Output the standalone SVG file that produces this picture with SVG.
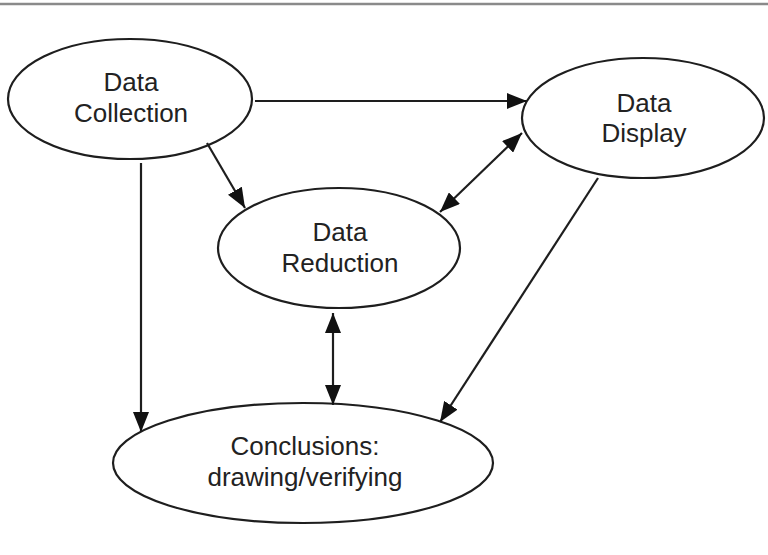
<svg xmlns="http://www.w3.org/2000/svg" width="768" height="555" viewBox="0 0 768 555">
<defs>
<marker id="ah" markerUnits="userSpaceOnUse" markerWidth="20" markerHeight="16" refX="20" refY="8" orient="auto-start-reverse" viewBox="0 0 20 16">
<path d="M0,0 L20,8 L0,16 z" fill="#111"/>
</marker>
<style>
.n{fill:#fff;stroke:#1e1e1e;stroke-width:2.2}
.t{font-family:"Liberation Sans",Arial,sans-serif;font-size:26px;fill:#222;text-anchor:middle}
.c{stroke:#1e1e1e;stroke-width:2.2;fill:none}
</style>
</defs>
<rect width="768" height="555" fill="#fff"/>
<line x1="0" y1="4" x2="768" y2="4" stroke="#8a8a8a" stroke-width="2.5"/>
<g id="collection">
<ellipse class="n" cx="130" cy="99" rx="122" ry="60"/>
<text class="t" x="131" y="91">Data</text>
<text class="t" x="131" y="122">Collection</text>
</g>
<g id="display">
<ellipse class="n" cx="643" cy="118" rx="121" ry="60"/>
<text class="t" x="644" y="112">Data</text>
<text class="t" x="644" y="142">Display</text>
</g>
<g id="reduction">
<ellipse class="n" cx="339" cy="248" rx="121" ry="60"/>
<text class="t" x="340" y="241">Data</text>
<text class="t" x="340" y="272">Reduction</text>
</g>
<g id="conclusions">
<ellipse class="n" cx="303" cy="463" rx="190" ry="60"/>
<text class="t" x="305" y="455">Conclusions:</text>
<text class="t" x="305" y="486">drawing/verifying</text>
</g>
<g id="connectors">
<line class="c" x1="255" y1="101" x2="527" y2="101" marker-end="url(#ah)"/>
<line class="c" x1="207" y1="143" x2="245" y2="208" marker-end="url(#ah)"/>
<line class="c" x1="141" y1="163" x2="141" y2="432" marker-end="url(#ah)"/>
<line class="c" x1="440" y1="212" x2="522" y2="133" marker-start="url(#ah)" marker-end="url(#ah)"/>
<line class="c" x1="333" y1="313" x2="333" y2="405" marker-start="url(#ah)" marker-end="url(#ah)"/>
<line class="c" x1="598" y1="178" x2="440" y2="422" marker-end="url(#ah)"/>
</g>
</svg>
